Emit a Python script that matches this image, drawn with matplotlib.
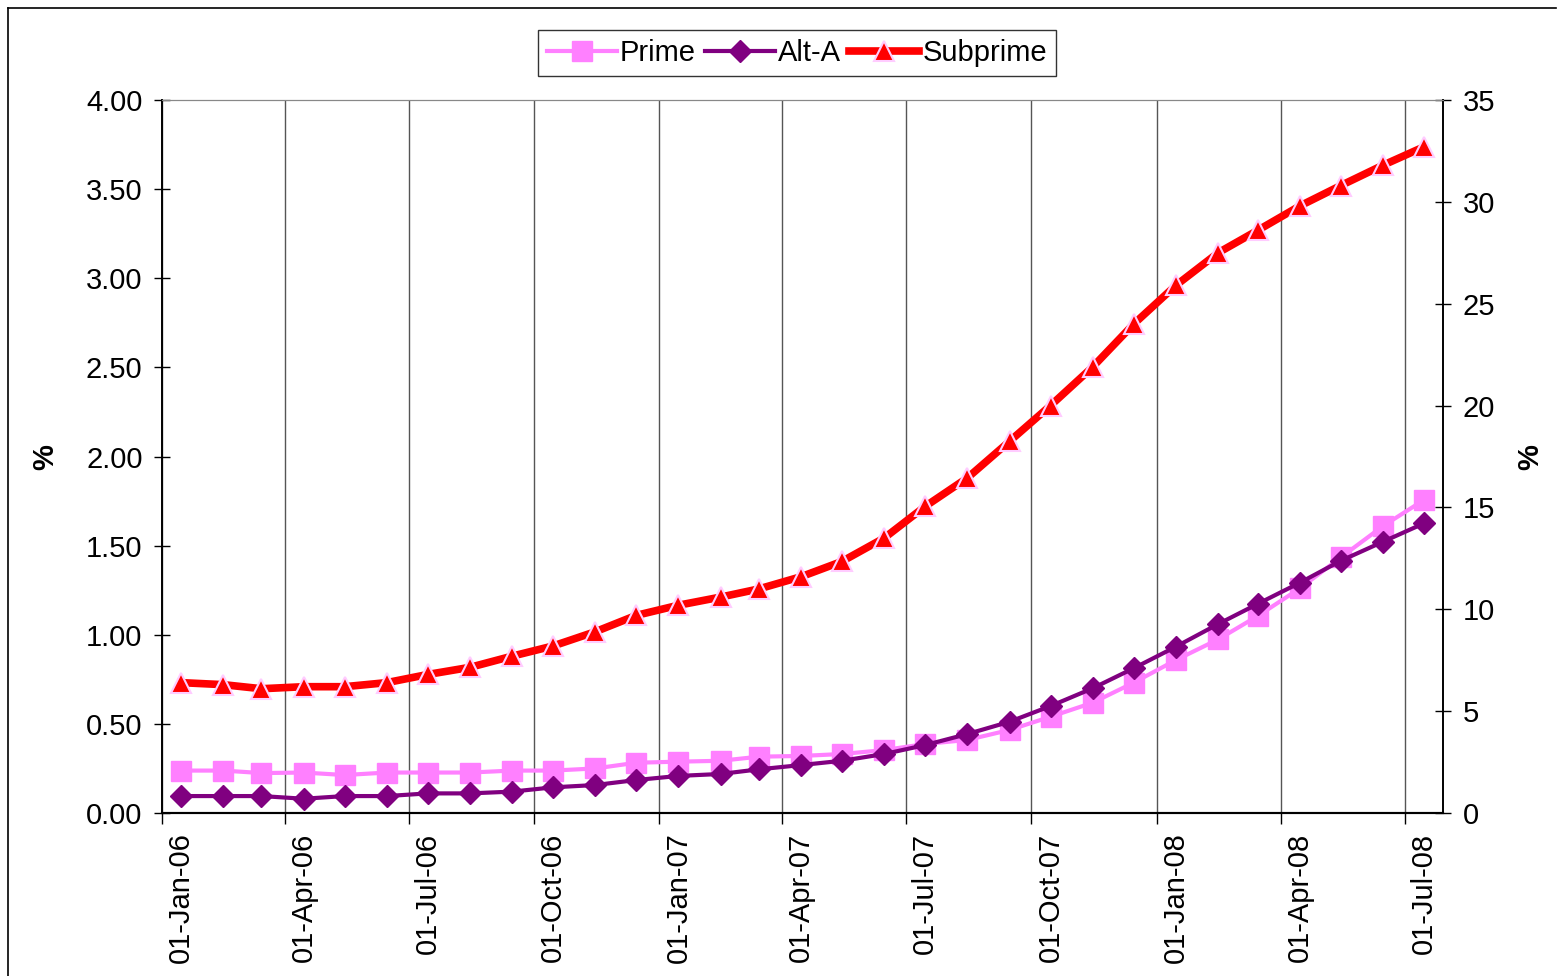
import numpy as np
import pandas as pd
import matplotlib
matplotlib.use("Agg")
import matplotlib.pyplot as plt
import matplotlib.dates as mdates
import matplotlib.transforms as mtransforms
from matplotlib.lines import Line2D

plt.rcParams['font.family'] = ['Liberation Sans', 'DejaVu Sans']

# monthly observations, plotted mid-month
months = pd.date_range(start='2006-01-01', end='2008-07-01', freq='MS') + pd.Timedelta(days=14)

prime = [0.238, 0.238, 0.224, 0.227, 0.213, 0.227, 0.227, 0.227, 0.238, 0.238,
         0.25, 0.282, 0.288, 0.293, 0.316, 0.32, 0.331, 0.353, 0.387, 0.41,
         0.466, 0.54, 0.619, 0.731, 0.858, 0.974, 1.105, 1.26, 1.434, 1.61, 1.756]
alt_a = [0.095, 0.095, 0.095, 0.08, 0.095, 0.095, 0.11, 0.11, 0.12, 0.144,
         0.157, 0.185, 0.208, 0.219, 0.245, 0.269, 0.293, 0.331, 0.381, 0.443,
         0.512, 0.60, 0.70, 0.812, 0.933, 1.06, 1.173, 1.292, 1.415, 1.522, 1.625]
subprime = [6.4, 6.3, 6.1, 6.2, 6.2, 6.4, 6.8, 7.15, 7.7, 8.2,
            8.9, 9.7, 10.2, 10.6, 11.0, 11.6, 12.35, 13.5, 15.05, 16.45,
            18.25, 20.0, 21.9, 24.0, 25.9, 27.5, 28.6, 29.8, 30.8, 31.8, 32.7]

left_ticks = np.arange(0, 4.01, 0.5)
right_ticks = np.arange(0, 36, 5)

fig = plt.figure(figsize=(15.6, 9.76), dpi=100)
ax = fig.add_axes([162 / 1560, 163 / 976, 1281 / 1560, 713 / 976])
ax2 = ax.twinx()

ax.plot(months, prime, color='#FF80FF', lw=3.0, marker='s', ms=14,
        mec='#FF80FF', label='Prime', zorder=3)
ax.plot(months, alt_a, color='#800080', lw=3.0, marker='D', ms=11,
        mec='#800080', label='Alt-A', zorder=4)
ax2.plot(months, subprime, color='#FF0000', lw=5.5, marker='^', ms=15,
         mec='#FFCCFF', mew=1.5, label='Subprime', zorder=5)

ax.set_xlim(pd.Timestamp('2006-01-01'), pd.Timestamp('2008-07-29'))
ax.set_ylim(0, 4)
ax2.set_ylim(0, 35)
ax.set_yticks(left_ticks)
ax.set_yticklabels([f'{t:.2f}' for t in left_ticks])
ax2.set_yticks(right_ticks)

ax.xaxis.set_major_locator(mdates.MonthLocator(bymonth=[1, 4, 7, 10]))
ax.xaxis.set_major_formatter(mdates.DateFormatter('%d-%b-%y'))

ax.grid(axis='x', color='#555555', lw=1.0)
ax.set_axisbelow(True)

ax.tick_params(axis='x', direction='out', length=8, width=1, labelsize=21, pad=6)
ax.tick_params(axis='y', direction='inout', length=12, width=1, labelsize=21, pad=8)
ax2.tick_params(axis='y', direction='inout', length=12, width=1, labelsize=21, pad=8)

# rotated date labels sit a little to the right of their ticks
shift = mtransforms.ScaledTranslation(19 / 100, 0, fig.dpi_scale_trans)
for lbl in ax.get_xticklabels():
    lbl.set_rotation(90)
    lbl.set_transform(lbl.get_transform() + shift)

for a in (ax, ax2):
    a.spines['top'].set_color('#888888')
    a.spines['left'].set_linewidth(1.2)
    a.spines['right'].set_linewidth(1.2)
    a.spines['bottom'].set_linewidth(1.5)

fig.text(45 / 1560, 1 - 457 / 976, '%', fontsize=21, fontweight='bold',
         rotation=90, ha='center', va='center')
fig.text(1530 / 1560, 1 - 457 / 976, '%', fontsize=21, fontweight='bold',
         rotation=90, ha='center', va='center')

h1, l1 = ax.get_legend_handles_labels()
h2, l2 = ax2.get_legend_handles_labels()
leg = fig.legend(h1 + h2, l1 + l2, loc='center', bbox_to_anchor=(797 / 1560, 923 / 976),
                 ncol=3, fontsize=21, frameon=True, fancybox=False, edgecolor='black',
                 handlelength=2.4, handletextpad=0.1, columnspacing=0.3,
                 borderpad=0.3)
leg.get_frame().set_linewidth(1.0)

# chart area border
fig.add_artist(Line2D([8 / 1560, 8 / 1560], [0, 968 / 976], color='black', lw=1.2))
fig.add_artist(Line2D([8 / 1560, 1556 / 1560], [968 / 976, 968 / 976], color='black', lw=1.2))

fig.savefig('out.png', dpi=100)
